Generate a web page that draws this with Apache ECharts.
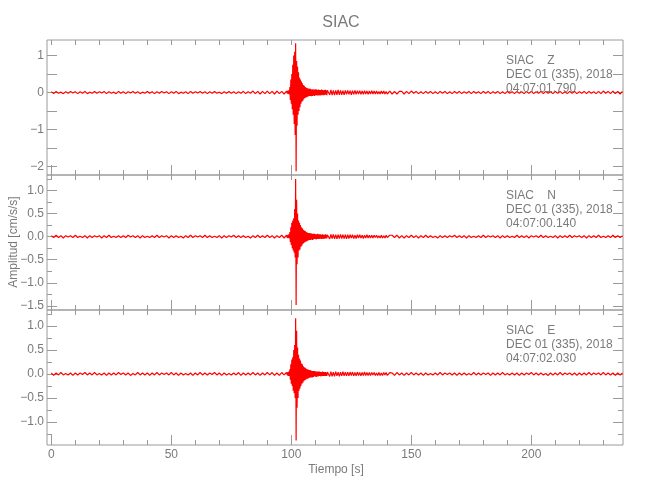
<!DOCTYPE html>
<html><head><meta charset="utf-8">
<script src="https://cdn.jsdelivr.net/npm/echarts@6/dist/echarts.min.js"></script>
<style>html,body{margin:0;padding:0;background:#fff}#c{width:650px;height:500px}</style>
</head><body><div id="c"></div>
<script>
// ---- data (cm/s/s)
// pre: t=0..98 step 1 s | evt: t=98.2..115 step 0.2 s | tail: t=115.5..140 step 0.5 s | post: t=141..238 step 1 s
const zPre=[0.02,-0.03,0.03,-0.02,0.01,-0.03,0.02,-0.02,0.03,-0.01,
0.02,-0.03,0.02,-0.02,0.03,-0.03,0.01,-0.02,0.03,-0.02,
0.02,-0.01,0.03,-0.03,0.02,-0.02,0.01,-0.03,0.03,-0.02,
0.02,-0.03,0.02,-0.01,0.03,-0.02,0.02,-0.03,0.01,-0.02,
0.03,-0.02,0.02,-0.03,0.02,-0.02,0.03,-0.01,0.02,-0.03,
0.02,-0.02,0.03,-0.03,0.01,-0.02,0.02,-0.03,0.03,-0.02,
0.02,-0.01,0.03,-0.02,0.02,-0.03,0.02,-0.02,0.03,-0.02,
0.01,-0.03,0.02,-0.02,0.03,-0.02,0.02,-0.03,0.02,-0.02,
0.03,-0.03,0.02,-0.02,0.04,-0.03,0.03,-0.04,0.03,-0.03,
0.04,-0.03,0.03,-0.04,0.04,-0.03,0.03,-0.04,0.04];
const zEvt=[0.04,-0.03,0.05,-0.04,0.06,-0.05,0.15,-0.2,0.35,-0.3,
0.5,-0.45,0.75,-0.6,1.0,-0.85,1.1,-1.15,1.33,-2.13,
0.85,-0.9,0.7,-0.6,0.55,-0.5,0.4,-0.4,0.35,-0.3,
0.3,-0.25,0.25,-0.22,0.2,-0.18,0.18,-0.15,0.15,-0.14,
0.13,-0.12,0.12,-0.11,0.1,-0.1,0.11,-0.09,0.1,-0.09,
0.09,-0.1,0.08,-0.09,0.09,-0.08,0.08,-0.09,0.08,-0.08,
0.09,-0.07,0.08,-0.08,0.07,-0.08,0.08,-0.07,0.07,-0.08,
0.07,-0.07,0.08,-0.06,0.07,-0.07,0.06,-0.07,0.07,-0.06,
0.07,-0.06,0.06,-0.07,0.06];
const zTail=[0.07,-0.06,0.07,-0.07,0.06,-0.07,0.06,-0.06,0.07,-0.06,
0.06,-0.06,0.05,-0.06,0.06,-0.05,0.06,-0.05,0.05,-0.06,
0.05,-0.05,0.06,-0.05,0.05,-0.04,0.05,-0.05,0.04,-0.05,
0.05,-0.04,0.04,-0.05,0.04,-0.04,0.05,-0.04,0.04,-0.04,
0.04,-0.04,0.03,-0.04,0.04,-0.03,0.04,-0.04,0.03,-0.04];
const zPost=[0.04,-0.04,0.03,-0.04,0.03,
0.03,-0.04,0.03,-0.03,0.04,-0.02,0.03,-0.03,0.02,-0.03,
0.03,-0.02,0.03,-0.03,0.02,-0.03,0.03,-0.02,0.03,-0.03,
0.02,-0.03,0.03,-0.02,0.03,-0.03,0.02,-0.02,0.03,-0.03,
0.03,-0.02,0.02,-0.03,0.03,-0.02,0.03,-0.03,0.02,-0.02,
0.03,-0.03,0.02,-0.03,0.03,-0.02,0.02,-0.03,0.03,-0.02,
0.02,-0.03,0.03,-0.02,0.03,-0.03,0.02,-0.02,0.03,-0.03,
0.03,-0.02,0.02,-0.03,0.03,-0.02,0.03,-0.03,0.02,-0.03,
0.03,-0.02,0.03,-0.03,0.02,-0.02,0.03,-0.03,0.03,-0.02,
0.02,-0.03,0.03,-0.03,0.04,-0.02,0.03,-0.03,0.04,-0.03,
0.03,-0.04,0.03];
const nPre=[0.02,-0.02,0.03,-0.02,0.02,-0.03,0.02,-0.01,0.02,-0.02,
0.03,-0.02,0.01,-0.02,0.02,-0.03,0.02,-0.02,0.02,-0.01,
0.02,-0.03,0.02,-0.02,0.03,-0.02,0.01,-0.02,0.02,-0.02,
0.02,-0.02,0.03,-0.01,0.02,-0.02,0.02,-0.03,0.02,-0.02,
0.01,-0.02,0.02,-0.02,0.03,-0.02,0.02,-0.01,0.02,-0.03,
0.02,-0.02,0.02,-0.02,0.01,-0.03,0.02,-0.02,0.03,-0.02,
0.02,-0.01,0.02,-0.02,0.03,-0.02,0.02,-0.02,0.01,-0.02,
0.02,-0.03,0.02,-0.02,0.02,-0.01,0.03,-0.02,0.02,-0.02,
0.02,-0.02,0.01,-0.03,0.02,-0.02,0.03,-0.02,0.02,-0.02,
0.03,-0.02,0.02,-0.03,0.02,-0.02,0.03,-0.03,0.03];
const nEvt=[0.03,-0.03,0.04,-0.03,0.05,-0.04,0.1,-0.12,0.2,-0.18,
0.3,-0.25,0.35,-0.3,0.4,-0.35,0.6,-0.45,1.25,-1.48,
0.8,-0.6,0.5,-0.45,0.35,-0.3,0.3,-0.28,0.25,-0.22,
0.2,-0.2,0.18,-0.16,0.15,-0.14,0.13,-0.12,0.12,-0.11,
0.1,-0.1,0.09,-0.09,0.08,-0.08,0.08,-0.07,0.07,-0.07,
0.07,-0.06,0.06,-0.07,0.06,-0.06,0.06,-0.05,0.06,-0.05,
0.05,-0.06,0.05,-0.05,0.06,-0.05,0.05,-0.05,0.05,-0.04,
0.05,-0.05,0.04,-0.05,0.05,-0.04,0.04,-0.05,0.04,-0.04,
0.05,-0.04,0.04,-0.04,0.04];
const nTail=[0.05,-0.05,0.05,-0.04,0.05,-0.05,0.04,-0.05,0.04,-0.04,
0.05,-0.04,0.04,-0.04,0.04,-0.05,0.04,-0.04,0.04,-0.03,
0.04,-0.04,0.03,-0.04,0.04,-0.03,0.04,-0.03,0.03,-0.04,
0.03,-0.03,0.04,-0.03,0.03,-0.03,0.03,-0.03,0.03,-0.02,
0.03,-0.03,0.02,-0.03,0.03,-0.03,0.02,-0.03,0.03,-0.02];
const nPost=[0.03,0.03,-0.02,0.03,-0.03,
0.02,-0.03,0.02,-0.02,0.03,-0.02,0.02,-0.03,0.02,-0.02,
0.03,-0.02,0.02,-0.02,0.01,-0.03,0.02,-0.02,0.02,-0.02,
0.02,-0.01,0.03,-0.02,0.02,-0.02,0.02,-0.03,0.02,-0.02,
0.01,-0.02,0.02,-0.02,0.03,-0.02,0.02,-0.01,0.02,-0.02,
0.02,-0.03,0.02,-0.02,0.02,-0.02,0.01,-0.02,0.03,-0.02,
0.02,-0.02,0.02,-0.03,0.02,-0.01,0.02,-0.02,0.03,-0.02,
0.02,-0.02,0.01,-0.02,0.02,-0.03,0.02,-0.02,0.02,-0.02,
0.03,-0.02,0.02,-0.01,0.02,-0.02,0.02,-0.03,0.02,-0.02,
0.02,-0.02,0.03,-0.02,0.01,-0.02,0.02,-0.02,0.03,-0.02,
0.02,-0.02,0.02];
const ePre=[0.02,-0.03,0.02,-0.02,0.03,-0.02,0.01,-0.02,0.02,-0.03,
0.02,-0.02,0.02,-0.01,0.03,-0.02,0.02,-0.02,0.03,-0.02,
0.01,-0.02,0.02,-0.03,0.02,-0.02,0.02,-0.02,0.03,-0.01,
0.02,-0.02,0.02,-0.03,0.01,-0.02,0.03,-0.02,0.02,-0.02,
0.02,-0.03,0.02,-0.02,0.03,-0.02,0.02,-0.01,0.02,-0.02,
0.03,-0.02,0.02,-0.03,0.02,-0.02,0.01,-0.02,0.02,-0.03,
0.02,-0.02,0.03,-0.02,0.02,-0.02,0.02,-0.01,0.03,-0.02,
0.02,-0.03,0.02,-0.02,0.01,-0.02,0.02,-0.02,0.03,-0.03,
0.02,-0.02,0.02,-0.02,0.03,-0.02,0.02,-0.03,0.02,-0.02,
0.03,-0.02,0.03,-0.03,0.02,-0.03,0.03,-0.02,0.03];
const eEvt=[0.03,-0.03,0.04,-0.04,0.05,-0.04,0.1,-0.12,0.2,-0.2,
0.3,-0.25,0.35,-0.35,0.5,-0.4,0.6,-0.5,1.16,-1.38,
0.9,-0.7,0.55,-0.5,0.4,-0.35,0.32,-0.3,0.28,-0.25,
0.22,-0.2,0.2,-0.18,0.16,-0.15,0.14,-0.13,0.13,-0.12,
0.11,-0.1,0.1,-0.1,0.09,-0.09,0.08,-0.08,0.08,-0.07,
0.07,-0.07,0.06,-0.07,0.06,-0.06,0.06,-0.05,0.06,-0.05,
0.05,-0.06,0.05,-0.05,0.05,-0.05,0.05,-0.04,0.05,-0.04,
0.04,-0.05,0.04,-0.04,0.05,-0.04,0.04,-0.04,0.04,-0.04,
0.04,-0.04,0.03,-0.04,0.04];
const eTail=[0.05,-0.05,0.05,-0.05,0.04,-0.05,0.05,-0.04,0.04,-0.05,
0.04,-0.04,0.05,-0.04,0.04,-0.04,0.04,-0.04,0.04,-0.03,
0.04,-0.04,0.03,-0.04,0.04,-0.03,0.03,-0.04,0.03,-0.03,
0.04,-0.03,0.03,-0.03,0.03,-0.03,0.03,-0.02,0.03,-0.03,
0.02,-0.03,0.03,-0.03,0.02,-0.03,0.03,-0.02,0.03,-0.03];
const ePost=[0.03,0.02,-0.03,0.03,-0.02,
0.02,-0.03,0.02,-0.02,0.03,-0.02,0.02,-0.02,0.02,-0.03,
0.02,-0.02,0.01,-0.02,0.02,-0.02,0.03,-0.02,0.02,-0.01,
0.02,-0.02,0.02,-0.03,0.02,-0.02,0.02,-0.02,0.01,-0.02,
0.03,-0.02,0.02,-0.02,0.02,-0.01,0.02,-0.03,0.02,-0.02,
0.02,-0.02,0.03,-0.02,0.01,-0.02,0.02,-0.02,0.02,-0.03,
0.02,-0.02,0.02,-0.01,0.03,-0.02,0.02,-0.02,0.02,-0.02,
0.01,-0.03,0.02,-0.02,0.02,-0.02,0.03,-0.02,0.02,-0.01,
0.02,-0.02,0.02,-0.03,0.02,-0.02,0.02,-0.02,0.03,-0.02,
0.02,-0.01,0.02,-0.02,0.03,-0.02,0.02,-0.02,0.02,-0.03,
0.02,-0.02,0.02];

// ---- axes / ticks / texts
const xRange=[-1.8,238.2];
const xMajor=[0,50,100,150,200];
const xMinor=[0,10,20,30,40,50,60,70,80,90,100,110,120,130,140,150,160,170,180,190,200,210,220,230];
const zRange=[-2.23,1.42], nRange=[-1.59,1.335], eRange=[-1.476,1.33];
const zMajor=[-2,-1.5,-1,-0.5,0,0.5,1], zLabels=[-2,-1,0,1], zMinor=[];
const nMajor=[-1.5,-1,-0.5,0,0.5,1], nMinor=[-1.5,-1.25,-1,-0.75,-0.5,-0.25,0,0.25,0.5,0.75,1,1.25];
const eMajor=[-1,-0.5,0,0.5,1], eMinor=[-1.25,-1,-0.75,-0.5,-0.25,0,0.25,0.5,0.75,1,1.25];
const components=['Z','N','E'];
const startTimes=['04:07:01.790','04:07:00.140','04:07:02.030'];
const station='SIAC', dateText='DEC 01 (335), 2018';
const titleText='SIAC', xName='Tiempo [s]', yName='Amplitud [cm/s/s]';

const FONT="'Liberation Sans',Arial,sans-serif";
const FRAME='#9a9a9a', TXT='#7a7a7a';
const tops=[40,175,310], H=135, L=47, R=27;

function seg(start,step,vals){return vals.map((v,i)=>[+(start+i*step).toFixed(2),v]);}
function trace(pre,evt,tail,post){
  return [].concat(seg(0,1,pre),seg(98.2,0.2,evt),seg(115.5,0.5,tail),seg(141,1,post));
}
const traces=[trace(zPre,zEvt,zTail,zPost),trace(nPre,nEvt,nTail,nPost),trace(ePre,eEvt,eTail,ePost)];
const yRanges=[zRange,nRange,eRange];
const yMaj=[zMajor,nMajor,eMajor], yMin=[zMinor,nMinor,eMinor], yLab=[zLabels,nMajor,eMajor];
const yDec=[0,1,1];

const grid=[],xAxis=[],yAxis=[],series=[],graphic=[];
function fmt(v,d){return (v<0?'\u2212':'')+Math.abs(v).toFixed(d);}
for(let g=0;g<3;g++){
  grid.push({left:L,right:R,top:tops[g],height:H,show:true,borderColor:FRAME,borderWidth:1,
    backgroundColor:'transparent',containLabel:false,outerBoundsMode:'none'});
  const xa=(pos,vals,len,lab)=>({type:'value',gridIndex:g,position:pos,min:xRange[0],max:xRange[1],
    axisLine:{show:false,onZero:false},splitLine:{show:false},
    axisTick:{show:vals.length>0,inside:true,length:len,customValues:vals,lineStyle:{color:FRAME}},
    axisLabel:lab?{show:true,customValues:xMajor,margin:4,color:TXT,fontFamily:FONT,fontSize:12}:{show:false}});
  const base=xAxis.length;
  xAxis.push(xa('bottom',xMajor,10,g===2));
  xAxis.push(xa('bottom',xMinor,5,false));
  xAxis.push(xa('top',xMinor,5,false));
  const ya=(pos,vals,len,lab)=>({type:'value',gridIndex:g,position:pos,min:yRanges[g][0],max:yRanges[g][1],
    axisLine:{show:false,onZero:false},splitLine:{show:false},
    axisTick:{show:vals.length>0,inside:true,length:len,customValues:vals.length?vals:undefined,lineStyle:{color:FRAME}},
    axisLabel:lab?{show:true,customValues:yLab[g],margin:3,color:TXT,fontFamily:FONT,fontSize:12,formatter:v=>fmt(v,yDec[g])}:{show:false}});
  const ybase=yAxis.length;
  yAxis.push(ya('left',yMaj[g],10,true));
  yAxis.push(ya('left',yMin[g],5,false));
  yAxis.push(ya('right',yMaj[g],10,false));
  yAxis.push(ya('right',yMin[g],5,false));
  series.push({type:'line',xAxisIndex:base,yAxisIndex:ybase,data:traces[g],showSymbol:false,symbol:'none',
    lineStyle:{color:'#ff0000',width:1.2},itemStyle:{color:'#ff0000'},silent:true,clip:true});
  graphic.push({type:'text',left:506,top:tops[g]+14,z:100,
    style:{text:station+'    '+components[g]+'\n'+dateText+'\n'+startTimes[g],fill:TXT,font:'12px '+FONT,lineHeight:14}});
}
// axis titles
graphic.push({type:'text',x:14,y:242,rotation:Math.PI/2,z:100,
  style:{text:yName,fill:TXT,font:'12px '+FONT,align:'center',verticalAlign:'middle'}});
graphic.push({type:'text',x:336,y:470,z:100,
  style:{text:xName,fill:TXT,font:'12px '+FONT,align:'center',verticalAlign:'middle'}});
const chart=echarts.init(document.getElementById('c'),null,{renderer:'canvas'});
chart.setOption({animation:false,backgroundColor:'#fff',
  title:{text:titleText,left:336,top:10,textAlign:'center',textStyle:{color:TXT,fontFamily:FONT,fontSize:16,fontWeight:'normal'}},
  grid,xAxis,yAxis,series,graphic});
</script></body></html>
